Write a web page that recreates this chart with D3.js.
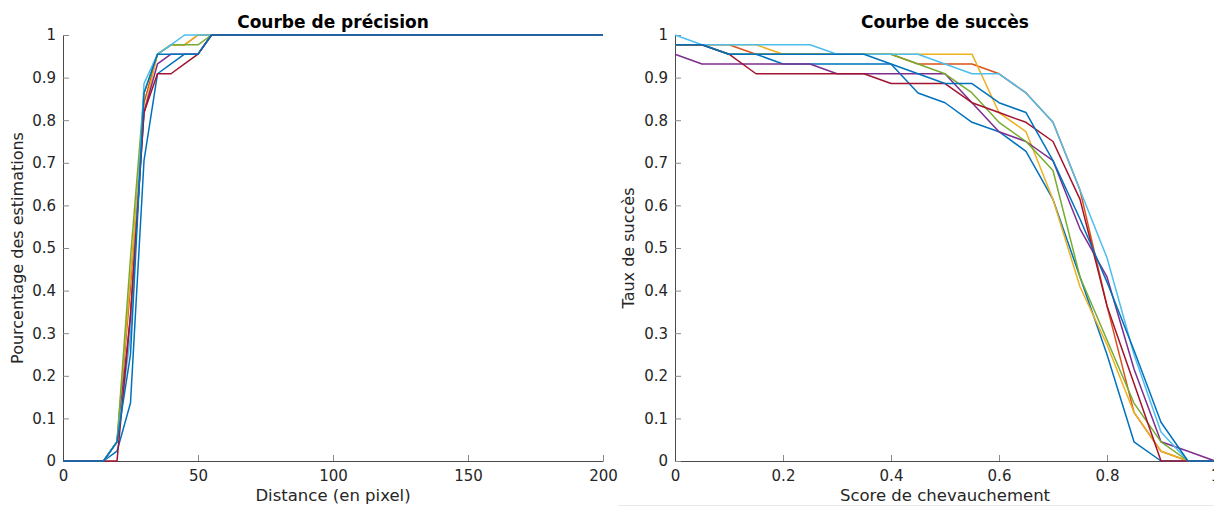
<!DOCTYPE html>
<html>
<head>
<meta charset="utf-8">
<script src="https://cdn.jsdelivr.net/npm/d3@7"></script>
<style>
  html, body { margin: 0; padding: 0; background: #fff; }
  svg { display: block; font-family: "DejaVu Sans", sans-serif; }
</style>
</head>
<body>
<svg id="chart" width="1214" height="507"></svg>
<script>
// ---------- data ----------
const colors = ["#0072BD", "#D95319", "#EDB120", "#7E2F8E", "#77AC30", "#4DBEEE", "#A2142F", "#0072BD"];

// Precision curve: distance thresholds (pixels)
const distances = [0,5,10,15,20,25,30,35,40,45,50,55,60,65,70,75,80,85,90,95,100,
                   105,110,115,120,125,130,135,140,145,150,155,160,165,170,175,180,185,190,195,200];
const prec1 = [0,0,0,0,0.023,0.136,0.705,0.909,0.932,0.955,0.955,1,1,1,1,1,1,1,1,1,1,1,1,1,1,1,1,1,1,1,1,1,1,1,1,1,1,1,1,1,1];
const prec2 = [0,0,0,0,0.045,0.409,0.841,0.955,0.977,0.977,1,1,1,1,1,1,1,1,1,1,1,1,1,1,1,1,1,1,1,1,1,1,1,1,1,1,1,1,1,1,1];
const prec3 = [0,0,0,0,0.045,0.432,0.818,0.955,0.977,0.977,1,1,1,1,1,1,1,1,1,1,1,1,1,1,1,1,1,1,1,1,1,1,1,1,1,1,1,1,1,1,1];
const prec4 = [0,0,0,0,0.045,0.341,0.818,0.932,0.955,0.955,0.955,1,1,1,1,1,1,1,1,1,1,1,1,1,1,1,1,1,1,1,1,1,1,1,1,1,1,1,1,1,1];
const prec5 = [0,0,0,0,0.045,0.477,0.864,0.955,0.977,0.977,0.977,1,1,1,1,1,1,1,1,1,1,1,1,1,1,1,1,1,1,1,1,1,1,1,1,1,1,1,1,1,1];
const prec6 = [0,0,0,0,0.045,0.295,0.886,0.955,0.977,1,1,1,1,1,1,1,1,1,1,1,1,1,1,1,1,1,1,1,1,1,1,1,1,1,1,1,1,1,1,1,1];
const prec7 = [0,0,0,0,0,0.341,0.818,0.909,0.909,0.932,0.955,1,1,1,1,1,1,1,1,1,1,1,1,1,1,1,1,1,1,1,1,1,1,1,1,1,1,1,1,1,1];
const prec8 = [0,0,0,0,0.045,0.25,0.864,0.955,0.955,0.955,0.955,1,1,1,1,1,1,1,1,1,1,1,1,1,1,1,1,1,1,1,1,1,1,1,1,1,1,1,1,1,1];
const precisionSeries = [prec1, prec2, prec3, prec4, prec5, prec6, prec7, prec8];

// Success curve: overlap thresholds
const overlaps = [0,0.05,0.1,0.15,0.2,0.25,0.3,0.35,0.4,0.45,0.5,0.55,0.6,0.65,0.7,0.75,0.8,0.85,0.9,0.95,1];
const succ1 = [0.977,0.977,0.955,0.955,0.932,0.932,0.932,0.932,0.932,0.864,0.841,0.795,0.773,0.727,0.614,0.432,0.25,0.045,0,0,0];
const succ2 = [0.977,0.977,0.977,0.955,0.955,0.955,0.955,0.955,0.955,0.932,0.932,0.932,0.909,0.864,0.795,0.636,0.364,0.114,0.023,0,0];
const succ3 = [0.977,0.977,0.977,0.977,0.955,0.955,0.955,0.955,0.955,0.955,0.955,0.955,0.818,0.773,0.614,0.409,0.273,0.114,0.023,0,0];
const succ4 = [0.955,0.932,0.932,0.932,0.932,0.932,0.909,0.909,0.909,0.909,0.909,0.841,0.773,0.75,0.705,0.545,0.432,0.216,0.045,0.023,0];
const succ5 = [0.977,0.977,0.955,0.955,0.955,0.955,0.955,0.955,0.955,0.932,0.909,0.864,0.795,0.75,0.682,0.432,0.284,0.136,0.045,0,0];
const succ6 = [1,0.977,0.977,0.977,0.977,0.977,0.955,0.955,0.955,0.955,0.932,0.909,0.909,0.864,0.795,0.636,0.477,0.25,0.068,0,0];
const succ7 = [0.977,0.977,0.955,0.909,0.909,0.909,0.909,0.909,0.886,0.886,0.886,0.841,0.818,0.795,0.75,0.614,0.364,0.182,0,0,0];
const succ8 = [0.977,0.977,0.955,0.955,0.955,0.955,0.955,0.955,0.932,0.909,0.886,0.886,0.841,0.818,0.705,0.568,0.42,0.26,0.091,0,0];
const successSeries = [succ1, succ2, succ3, succ4, succ5, succ6, succ7, succ8];

const precTicksX = [0, 50, 100, 150, 200];
const succTicksX = [0, 0.2, 0.4, 0.6, 0.8, 1];
const ticksY = [0, 0.1, 0.2, 0.3, 0.4, 0.5, 0.6, 0.7, 0.8, 0.9, 1];

// ---------- drawing ----------
const svg = d3.select("#chart");
const plotTop = 35, plotBottom = 461;
const y = d3.scaleLinear().domain([0, 1]).range([plotBottom, plotTop]);

const fmt = d => String(+d.toFixed(2));

function panel(opts) {
  const x = d3.scaleLinear().domain(opts.domain).range(opts.range);
  const g = svg.append("g");

  const xAxis = d3.axisBottom(x).tickValues(opts.xticks).tickFormat(fmt)
      .tickSizeInner(-6).tickSizeOuter(0).tickPadding(9);
  const yAxis = d3.axisLeft(y).tickValues(ticksY).tickFormat(fmt)
      .tickSizeInner(-6).tickSizeOuter(0).tickPadding(7);

  const gx = g.append("g").attr("transform", `translate(0,${plotBottom})`).call(xAxis);
  const gy = g.append("g").attr("transform", `translate(${opts.range[0]},0)`).call(yAxis);
  [gx, gy].forEach(a => {
    a.select(".domain").attr("stroke", "#4a4a4a").attr("stroke-width", 1);
    a.selectAll(".tick line").attr("stroke", "#8a8a8a").attr("stroke-width", 1);
    a.selectAll(".tick text").attr("fill", "#262626").style("font-size", "15px")
      .style("font-family", "DejaVu Sans, sans-serif");
  });

  const line = d3.line().x((d, i) => x(opts.xs[i])).y(d => y(d));
  opts.series.forEach((s, i) => {
    g.append("path").datum(s)
      .attr("d", line)
      .attr("fill", "none")
      .attr("stroke", colors[i])
      .attr("stroke-width", 1.5)
      .attr("stroke-linejoin", "round");
  });

  const cx = (opts.range[0] + opts.range[1]) / 2;
  g.append("text").attr("x", cx).attr("y", 28).attr("text-anchor", "middle")
    .style("font-size", "17px").style("font-weight", "bold").attr("fill", "#000")
    .text(opts.title);
  g.append("text").attr("x", cx).attr("y", 501).attr("text-anchor", "middle")
    .style("font-size", "16.5px").attr("fill", "#262626")
    .text(opts.xlabel);
  g.append("text").attr("transform", `translate(${opts.ylabelX},${(plotTop + plotBottom) / 2}) rotate(-90)`)
    .attr("text-anchor", "middle")
    .style("font-size", "16px").attr("fill", "#262626")
    .text(opts.ylabel);
}

panel({
  domain: [0, 200], range: [63, 603], xs: distances, series: precisionSeries,
  xticks: precTicksX, title: "Courbe de précision",
  xlabel: "Distance (en pixel)", ylabel: "Pourcentage des estimations", ylabelX: 23
});
panel({
  domain: [0, 1], range: [675, 1215], xs: overlaps, series: successSeries,
  xticks: succTicksX, title: "Courbe de succès",
  xlabel: "Score de chevauchement", ylabel: "Taux de succès", ylabelX: 634
});

// faint figure edge line at the bottom right
svg.append("line").attr("x1", 618).attr("x2", 1214).attr("y1", 505.5).attr("y2", 505.5)
  .attr("stroke", "#e8e8e8").attr("stroke-width", 1);
</script>
</body>
</html>
